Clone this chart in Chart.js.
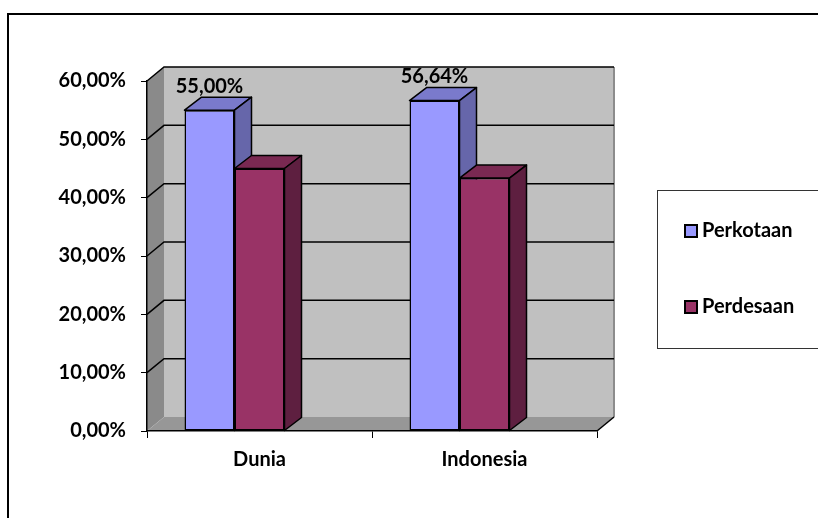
<!DOCTYPE html>
<html>
<head>
<meta charset="utf-8">
<script src="https://cdn.jsdelivr.net/npm/chart.js@4.4.0/dist/chart.umd.min.js"></script>
<style>
  html, body { margin: 0; padding: 0; background: #fff; }
  canvas { display: block; }
</style>
</head>
<body>
<canvas id="myChart" width="818" height="518"></canvas>
<script>
// data
const categories = ['Dunia', 'Indonesia'];
const seriesNames = ['Perkotaan', 'Perdesaan'];
const perkotaanValues = [55.00, 56.64];
const perdesaanValues = [45.00, 43.36];
const yTicks = [0, 10, 20, 30, 40, 50, 60];

// colors for front / top / side faces
const frontColors = ['#9999FF', '#993366'];
const topColors = ['#7A7ACC', '#7A2952'];
const sideColors = ['#6666AA', '#5E1F40'];

// 3d depth offsets
const WALL_DX = 17, WALL_DY = -14;
const BAR_DX = 17, BAR_DY = -13;
const BAR_SHIFT = -25;
const FONT = 'Lato';
const BOLD = '700 20px ' + FONT;

function pct(v) {
  return Number(v).toFixed(2).replace('.', ',') + '%';
}

function poly(ctx, pts, fill) {
  ctx.beginPath();
  ctx.moveTo(pts[0][0], pts[0][1]);
  for (let k = 1; k < pts.length; k++) ctx.lineTo(pts[k][0], pts[k][1]);
  ctx.closePath();
  ctx.fillStyle = fill;
  ctx.fill();
}

// walls, floor and back gridlines
const walls3d = {
  id: 'walls3d',
  beforeDraw(chart) {
    const ctx = chart.ctx;
    const area = chart.chartArea;
    const y = chart.scales.y;
    const left = area.left, right = area.right;
    const top = y.getPixelForValue(yTicks[yTicks.length - 1]);
    const bottom = y.getPixelForValue(0);
    ctx.save();

    // outer frame
    ctx.strokeStyle = '#000';
    ctx.lineWidth = 2;
    ctx.strokeRect(8, 14, 900, 600);

    // back wall
    ctx.fillStyle = '#C0C0C0';
    ctx.fillRect(left + WALL_DX, top + WALL_DY, right - left, bottom - top);
    ctx.strokeStyle = '#8C8C8C';
    ctx.lineWidth = 2;
    ctx.beginPath();
    ctx.moveTo(right + WALL_DX, top + WALL_DY);
    ctx.lineTo(right + WALL_DX, bottom + WALL_DY);
    ctx.stroke();

    // left wall
    poly(ctx, [[left, top], [left + WALL_DX, top + WALL_DY], [left + WALL_DX, bottom + WALL_DY], [left, bottom]], '#8A8A8A');

    // floor
    poly(ctx, [[left, bottom], [left + WALL_DX, bottom + WALL_DY], [right + WALL_DX, bottom + WALL_DY], [right, bottom]], '#979797');

    // gridlines on back wall and left wall
    ctx.strokeStyle = '#000';
    ctx.lineWidth = 1.5;
    yTicks.forEach(v => {
      if (v === 0) return;
      const py = y.getPixelForValue(v);
      ctx.beginPath();
      ctx.moveTo(left, py);
      ctx.lineTo(left + WALL_DX, py + WALL_DY);
      ctx.lineTo(right + WALL_DX, py + WALL_DY);
      ctx.stroke();
    });

    // floor right edge
    ctx.beginPath();
    ctx.moveTo(right, bottom);
    ctx.lineTo(right + WALL_DX, bottom + WALL_DY);
    ctx.stroke();
    ctx.restore();
  },
  afterDraw(chart) {
    // legend box
    const ctx = chart.ctx;
    ctx.save();
    ctx.strokeStyle = '#333';
    ctx.lineWidth = 1;
    ctx.strokeRect(657.5, 190.5, 200, 158);
    ctx.font = BOLD;
    ctx.textAlign = 'left';
    ctx.textBaseline = 'middle';
    chart.data.datasets.forEach((ds, i) => {
      const cy = 231 + i * 76;
      ctx.fillStyle = ds.backgroundColor;
      ctx.fillRect(685, cy - 6, 12, 12);
      ctx.strokeStyle = '#000';
      ctx.lineWidth = 2;
      ctx.strokeRect(685, cy - 6, 12, 12);
      ctx.fillStyle = '#000';
      ctx.fillText(ds.label, 702, cy);
    });
    ctx.restore();
  }
};

// bars drawn left to right, with top and side faces
const bars3d = {
  id: 'bars3d',
  beforeDatasetDraw() {
    return false; // drawn below in category order
  },
  afterDatasetsDraw(chart) {
    const ctx = chart.ctx;
    ctx.save();
    ctx.translate(BAR_SHIFT, 0);
    ctx.lineJoin = 'round';
    const metas = chart.data.datasets.map((ds, i) => chart.getDatasetMeta(i));
    categories.forEach((cat, j) => {
      metas.forEach((meta, i) => {
        const bar = meta.data[j];
        bar.draw(ctx);
        const l = bar.x - bar.width / 2;
        const r = bar.x + bar.width / 2;
        const t = bar.y;
        const b = bar.base;
        ctx.strokeStyle = '#000';
        ctx.lineWidth = 1.5;
        poly(ctx, [[l, t], [l + BAR_DX, t + BAR_DY], [r + BAR_DX, t + BAR_DY], [r, t]], topColors[i]);
        ctx.stroke();
        poly(ctx, [[r, t], [r + BAR_DX, t + BAR_DY], [r + BAR_DX, b + BAR_DY], [r, b]], sideColors[i]);
        ctx.stroke();
      });
      // value label above the Perkotaan bar
      const bar0 = metas[0].data[j];
      ctx.fillStyle = '#000';
      ctx.font = BOLD;
      ctx.textAlign = 'center';
      ctx.textBaseline = 'middle';
      ctx.fillText(pct(perkotaanValues[j]), bar0.x, bar0.y + BAR_DY - 11);
    });
    ctx.restore();
  }
};

const ctx = document.getElementById('myChart').getContext('2d');
const myChart = new Chart(ctx, {
  type: 'bar',
  data: {
    labels: categories,
    datasets: [{
      label: seriesNames[0],
      data: perkotaanValues,
      backgroundColor: frontColors[0],
    }, {
      label: seriesNames[1],
      data: perdesaanValues,
      backgroundColor: frontColors[1],
    }],
  },
  options: {
    responsive: false,
    animation: false,
    devicePixelRatio: 1,
    layout: { padding: { left: 0, top: 81, right: 221, bottom: 0 } },
    datasets: {
      bar: {
        borderColor: '#000',
        borderWidth: 1.5,
        borderSkipped: false,
        categoryPercentage: 100 / 225,
        barPercentage: 1,
        clip: false,
      }
    },
    plugins: {
      legend: { display: false },
      tooltip: { enabled: false },
    },
    scales: {
      x: {
        ticks: { font: { family: FONT, size: 20, weight: 'bold' }, color: '#000', padding: 10 },
        grid: { drawOnChartArea: false, tickLength: 7, color: '#000', offset: true },
        border: { color: '#000', width: 1.5 },
        afterFit(scale) { scale.height = 518 - 431; },
      },
      y: {
        min: 0,
        max: 60,
        afterBuildTicks(scale) { scale.ticks = yTicks.map(v => ({ value: v })); },
        ticks: {
          callback: v => pct(v),
          font: { family: FONT, size: 20, weight: 'bold' },
          color: '#000',
          padding: 15,
        },
        grid: { drawOnChartArea: false, tickLength: 6, color: '#000' },
        border: { color: '#000', width: 1.5 },
        afterFit(scale) { scale.width = 147; },
      },
    },
  },
  plugins: [walls3d, bars3d],
});
</script>
</body>
</html>
